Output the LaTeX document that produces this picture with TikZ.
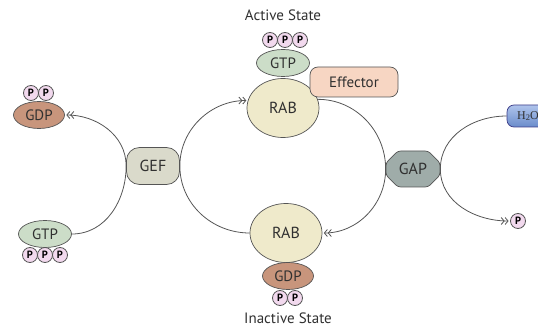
\documentclass[tikz,border=0pt]{standalone}
\usepackage{fontspec}
\setmainfont{PT Sans}
\newfontfamily\serifface{Liberation Serif}
\usetikzlibrary{arrows.meta,shapes.misc,shapes.geometric,backgrounds}
\definecolor{pfill}{HTML}{F2D9EE}
\definecolor{gtpfill}{HTML}{CCDDC8}
\definecolor{gdpfill}{HTML}{C8957C}
\definecolor{rabfill}{HTML}{EFEACB}
\definecolor{efffill}{HTML}{F7D6C3}
\definecolor{geffill}{HTML}{DADACB}
\definecolor{gapfill}{HTML}{9FACA9}
\definecolor{h2otop}{HTML}{AFC4EC}
\definecolor{h2obot}{HTML}{6A8CCB}
\definecolor{edge}{HTML}{555555}
\definecolor{txt}{HTML}{303030}
\tikzset{
  pball/.style={circle, draw=edge, line width=0.8pt, fill=pfill, minimum size=15pt,
    inner sep=0pt, font=\bfseries\fontsize{10.5}{10.5}\selectfont, text=black},
  nucbox/.style={ellipse, draw=edge, line width=0.7pt, minimum width=53pt,
    minimum height=27pt, inner sep=0pt, font=\fontsize{15}{15}\selectfont, text=txt},
  gtpbox/.style={nucbox, fill=gtpfill},
  gdpbox/.style={nucbox, fill=gdpfill, minimum width=51pt},
  rabbox/.style={ellipse, draw=edge, line width=0.7pt, fill=rabfill, minimum width=72pt,
    minimum height=59pt, inner sep=0pt, font=\fontsize{16}{16}\selectfont, text=txt},
  effbox/.style={rectangle, rounded corners=8pt, draw=edge, line width=0.7pt, fill=efffill,
    minimum width=88pt, minimum height=30pt, font=\fontsize{15}{15}\selectfont, text=txt},
  gefbox/.style={rectangle, rounded corners=13pt, draw=edge, line width=0.7pt, fill=geffill,
    minimum width=53pt, minimum height=37pt, font=\fontsize{16}{16}\selectfont, text=txt},
  gapbox/.style={chamfered rectangle, chamfered rectangle xsep=6pt, chamfered rectangle ysep=6pt,
    rounded corners=3pt, draw=edge, line width=0.7pt, fill=gapfill,
    minimum width=54pt, minimum height=36pt, inner sep=0pt, font=\fontsize{16}{16}\selectfont, text=txt},
  h2obox/.style={rectangle, rounded corners=7pt, draw=edge!70!blue, line width=0.7pt,
    top color=h2otop, bottom color=h2obot, minimum width=42pt, minimum height=22pt,
    font=\serifface\fontsize{12}{12}\selectfont, text=txt},
  lbl/.style={font=\fontsize{15}{15}\selectfont, text=txt},
  conn/.style={draw=edge, line width=0.8pt},
  arr/.style={-{Straight Barb[length=3pt,width=7pt]Straight Barb[length=3pt,width=7pt]}, shorten >=1.5pt},
}
\begin{document}
\begin{tikzpicture}[x=1pt,y=-1pt]
\useasboundingbox (0,0) rectangle (538,331);
% top active state
\node[lbl] (active) at (283,15) {Active State};
\node[pball] (pt1) at (270,40) {P};
\node[pball] (pt2) at (285,40) {P};
\node[pball] (pt3) at (300,40) {P};
\node[gtpbox] (gtpT) at (283,63) {GTP};
\node[rabbox] (rabT) at (283,108) {RAB};
\node[effbox] (eff) at (354,82) {Effector};
% bottom inactive state
\node[rabbox] (rabB) at (286,233) {RAB};
\node[gdpbox] (gdpB) at (288,276) {GDP};
\node[pball] (pb1) at (280,298) {P};
\node[pball] (pb2) at (295,298) {P};
\node[lbl] (inactive) at (288,318) {Inactive State};
% left GEF side
\node[gefbox] (gef) at (153,166) {GEF};
\node[pball] (pl1) at (31,93) {P};
\node[pball] (pl2) at (46,93) {P};
\node[gdpbox] (gdpL) at (39,115) {GDP};
\node[gtpbox] (gtpL) at (45,234) {GTP};
\node[pball] (pl3) at (30,255) {P};
\node[pball] (pl4) at (45,255) {P};
\node[pball] (pl5) at (60,255) {P};
% right GAP side
\node[gapbox] (gap) at (413,169) {GAP};
\node[h2obox] (h2o) at (528,116) {H\raisebox{-0.3ex}{\fontsize{8.5}{8.5}\selectfont 2}O};
\node[pball] (pr) at (518,221) {P};
% connectors
\begin{pgfonlayer}{background}
\draw[conn,arr] (rabB.west) to[out=180,in=270] (gef.east) to[out=90,in=180] (rabT.168);
\draw[conn,arr] (rabT.14) to[out=0,in=90] (gap.west) to[out=270,in=0] (rabB.east);
\draw[conn,arr] (gtpL.east) to[out=0,in=270] (gef.west) to[out=90,in=0] (gdpL.east);
\draw[conn,arr] (h2o.west) to[out=180,in=90] (gap.east) to[out=270,in=180] (pr.west);
\end{pgfonlayer}
\end{tikzpicture}
\end{document}
